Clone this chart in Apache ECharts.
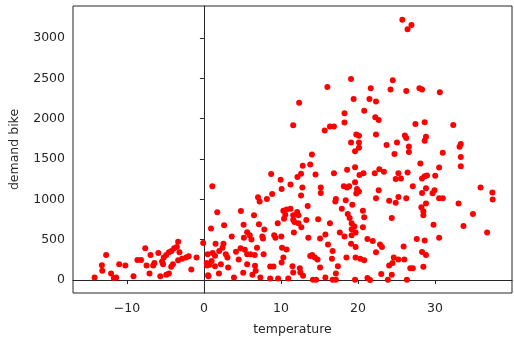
<!DOCTYPE html>
<html><head><meta charset="utf-8">
<script src="https://cdn.jsdelivr.net/npm/echarts@6/dist/echarts.min.js"></script>
<style>html,body{margin:0;padding:0;background:#fff}#c{width:514px;height:341px}</style>
</head><body><div id="c"></div>
<script>
const temperature = [
-14.2,-13.25,-13.2,-12.7,-12.06,-11.7,-11.4,-11.0,-10.2,-9.15,-8.64,-8.17,-7.62,-7.45,-6.94,-7.07,-6.59,-6.43,-5.92,-5.66,-5.44,-5.31,-5.22,-4.89,-4.89,-4.55,-4.55,-4.25,-4.03,-4.2,-3.87,-3.52,-3.35,-3.18,-3.35,-2.84,-2.33,-1.98,-1.64,-0.96,-0.1,0.41,0.58,0.92,
1.09,8.73,9.96,11.24,10.09,8.86,8.17,7.02,7.23,12.83,12.61,12.14,13.8,14.02,12.78,12.61,1.73,4.8,6.5,2.62,5.15,7.14,7.84,10.31,10.73,11.24,10.56,10.4,11.59,12.1,12.27,11.59,11.75,12.27,12.65,13.29,9.58,3.61,5.61,5.95,5.19,6.17,7.58,7.66,9.12,9.28,10.05,11.68,13.55,1.51,2.54,0.49,1.13,1.43,1.98,2.41,2.84,3.05,0.36,0.7,1.0,1.43,2.2,3.14,0.54,1.95,3.9,4.16,4.51,4.76,5.31,5.61,6.04,6.59,6.89,7.75,5.61,6.63,6.72,7.32,8.6,9.03,8.6,9.63,10.14,10.73,10.31,10.09,11.5,11.59,10.95,12.45,12.52,12.87,13.8,5.1,6.3,
19.62,24.74,14.49,16.88,18.59,19.62,20.2,20.72,22.18,22.77,23.37,25.25,26.44,24.9,25.58,19.62,18.16,18.59,18.85,19.87,20.13,19.78,15.17,15.17,17.13,17.06,18.41,19.27,17.9,22.34,22.69,24.05,24.9,25.25,26.27,13.47,18.67,18.92,20.64,20.81,24.39,14.83,16.36,19.18,19.53,19.18,20.64,17.64,18.25,19.18,19.69,15.77,15.08,21.23,21.92,19.1,19.69,22.86,23.11,16.11,16.71,22.34,25.93,14.06,14.4,14.75,16.62,18.5,19.69,20.29,20.81,24.65,24.48,25.25,26.02,24.05,15.08,17.39,17.13,23.02,24.39,26.79,14.15,14.57,15.77,16.71,17.13,19.62,21.23,21.57,23.88,26.35,
27.46,28.66,32.37,26.09,26.27,28.83,28.66,26.61,26.61,33.35,33.19,31.01,33.35,33.35,28.1,30.54,28.32,28.66,28.96,30.03,27.12,28.83,28.32,29.68,29.94,30.54,31.01,35.92,37.45,37.49,33.06,28.83,28.23,28.49,28.49,34.93,29.81,33.7,36.77,30.54,27.63,28.66,28.32,28.83,27.12,28.49,
25.76,26.95,26.44,19.1,16.03,24.52,21.66,24.23,26.27,27.98,28.32,30.63,12.36,19.44,21.49,22.34,20.81,18.25,18.25,22.25,22.69,11.59,15.68,16.36,16.88,19.78,20.13,22.34,19.1,20.13,20.13,23.71,25.07
];
const demand = [
33,184,115,312,82,25,33,196,180,49,250,250,393,180,312,82,180,213,336,49,229,196,279,66,312,82,344,164,196,361,393,410,475,344,245,263,279,294,131,279,459,180,49,638,
1162,1313,1244,1183,1129,1067,1006,1027,974,1416,1318,1276,1432,1555,1146,1048,839,855,802,680,687,692,626,859,876,883,810,761,802,843,802,748,720,704,655,745,704,540,594,557,524,503,540,515,557,524,540,589,524,450,450,319,336,303,361,401,319,279,213,189,238,172,196,156,61,82,33,352,254,393,377,319,319,312,401,319,196,177,115,33,168,168,21,21,401,380,279,217,172,94,21,147,94,54,299,91,66,
1595,1563,1309,1325,1367,1399,1301,1325,1325,1374,1342,1325,1334,1252,1260,1211,1162,1146,1162,1129,1097,1072,1146,1080,1006,974,990,933,883,1015,1113,982,957,1031,1015,917,818,769,859,778,769,753,704,704,663,631,655,589,540,557,589,564,515,508,483,450,410,442,410,442,361,344,417,312,279,254,263,279,279,263,245,279,213,254,254,180,156,172,82,74,66,147,5,5,33,5,5,5,25,0,5,5,
1935,1956,1923,1791,1760,1775,1726,1656,1588,1686,1653,1579,1526,1411,1444,1395,1260,1288,1297,1293,1162,1137,1080,1076,1113,1015,1015,1146,1085,999,950,950,901,852,802,818,687,671,589,524,508,491,348,312,147,164,
3227,3162,3109,2491,2393,2475,2377,2361,2344,2377,2361,2328,2196,2245,2245,2213,2098,2066,1951,2017,1984,1919,1853,1902,1902,1804,1788,1804,1706,1706,1641,1674,1706
];
const xTicks = [-10, 0, 10, 20, 30];
const yTicks = [0, 500, 1000, 1500, 2000, 2500, 3000];
const xLabel = 'temperature';
const yLabel = 'demand bike';

const points = temperature.map((t, i) => [t, demand[i]]);
const fmt = v => String(v).replace('-', '\u2212');
const txt = { fontFamily: 'DejaVu Sans', fontSize: 12.5, color: '#262626' };

const chart = echarts.init(document.getElementById('c'), null, { renderer: 'canvas' });
chart.setOption({
  animation: false,
  backgroundColor: '#fff',
  grid: { left: 67, right: 2, top: 6, bottom: 46, show: true, borderColor: '#262626', borderWidth: 1, containLabel: false },
  xAxis: {
    type: 'value', min: -17, max: 40,
    name: xLabel, nameLocation: 'middle', nameGap: 30, nameTextStyle: txt,
    axisLine: { show: true, lineStyle: { color: '#262626', width: 1 } },
    splitLine: { show: false },
    axisTick: { show: true, inside: false, length: 4, customValues: xTicks, lineStyle: { color: '#262626' } },
    axisLabel: Object.assign({ customValues: xTicks, formatter: fmt, margin: 9 }, txt)
  },
  yAxis: {
    type: 'value', min: -160, max: 3396,
    name: yLabel, nameLocation: 'middle', nameGap: 52, nameRotate: 90, nameTextStyle: txt,
    axisLine: { show: true, lineStyle: { color: '#262626', width: 1 } },
    splitLine: { show: false },
    axisTick: { show: true, inside: false, length: 4, customValues: yTicks, lineStyle: { color: '#262626' } },
    axisLabel: Object.assign({ customValues: yTicks, formatter: fmt, margin: 8 }, txt)
  },
  series: [{
    type: 'scatter',
    data: points,
    symbol: 'circle',
    symbolSize: 6,
    itemStyle: { color: '#ff0000', opacity: 1 }
  }]
});
</script>
</body></html>
